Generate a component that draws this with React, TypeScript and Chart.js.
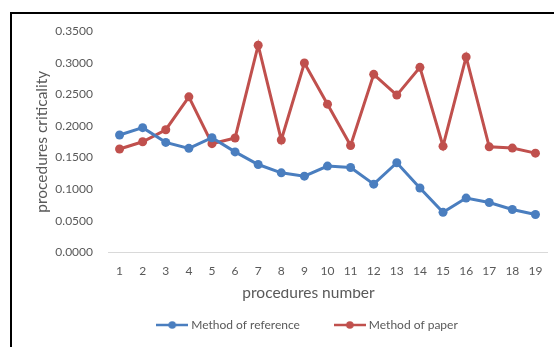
import React, { useEffect, useRef } from "react";
import { Chart, registerables } from "chart.js";

Chart.register(...registerables);

const categories = ["1","2","3","4","5","6","7","8","9","10","11","12","13","14","15","16","17","18","19"];
const methodOfReference = [0.1857, 0.1973, 0.174, 0.1646, 0.1814, 0.159, 0.139, 0.1259, 0.1206, 0.1365, 0.1344, 0.108, 0.1418, 0.102, 0.0635, 0.086, 0.079, 0.068, 0.060];
const methodOfPaper = [0.1635, 0.175, 0.194, 0.246, 0.172, 0.181, 0.3275, 0.1778, 0.2995, 0.2344, 0.169, 0.2815, 0.2487, 0.2926, 0.168, 0.309, 0.167, 0.165, 0.157];
const seriesNames = ["Method of reference", "Method of paper"];
const seriesColors = ["#4a7ebf", "#c0504d"];
const yAxisTitle = "procedures criticality";
const xAxisTitle = "procedures number";

const FONT = "Lato, 'Open Sans', sans-serif";
const TEXT = "#595959";

function legendMarker(color: string): HTMLCanvasElement {
  const c = document.createElement("canvas");
  c.width = 32;
  c.height = 10;
  const ctx = c.getContext("2d")!;
  ctx.strokeStyle = color;
  ctx.lineWidth = 2.5;
  ctx.beginPath();
  ctx.moveTo(0, 5);
  ctx.lineTo(32, 5);
  ctx.stroke();
  ctx.fillStyle = color;
  ctx.beginPath();
  ctx.arc(16, 5, 3.8, 0, Math.PI * 2);
  ctx.fill();
  return c;
}

export default function App() {
  const ref = useRef<HTMLCanvasElement | null>(null);

  useEffect(() => {
    document.body.style.margin = "0";
    const markers = seriesColors.map(legendMarker);
    const chart = new Chart(ref.current!, {
      type: "line",
      data: {
        labels: categories,
        datasets: [methodOfReference, methodOfPaper].map((d, i) => ({
          label: seriesNames[i],
          data: d,
          borderColor: seriesColors[i],
          backgroundColor: seriesColors[i],
          borderWidth: 3,
          pointRadius: 4.5,
          pointHoverRadius: 4.5,
          pointBorderWidth: 0,
          tension: 0,
          yAxisID: "y",
        })),
      },
      options: {
        responsive: false,
        animation: false,
        devicePixelRatio: 1,
        layout: { padding: { left: 55, right: -8, top: 31, bottom: 6 } },
        scales: {
          x: {
            offset: true,
            grid: { display: false, drawTicks: false },
            border: { display: true, color: "#d9d9d9", width: 1 },
            ticks: { color: TEXT, font: { family: FONT, size: 12 }, padding: 11, maxRotation: 0 },
          },
          y: {
            min: 0,
            max: 0.35,
            afterFit: (s: any) => { s.width = 53; },
            grid: { display: false, drawTicks: false },
            border: { display: false },
            ticks: {
              stepSize: 0.05,
              color: TEXT,
              font: { family: FONT, size: 12 },
              padding: 15,
              callback: (v: any) => Number(v).toFixed(4),
            },
            title: {
              display: true,
              text: yAxisTitle,
              color: TEXT,
              font: { family: FONT, size: 15.5 },
              padding: { top: -22.3, bottom: 0 },
            },
          },
          y2: {
            position: "right",
            afterFit: (s: any) => { s.width = 15; },
            grid: { display: false, drawTicks: false },
            border: { display: false },
            ticks: { display: false },
          },
        },
        plugins: {
          tooltip: { enabled: false },
          legend: {
            position: "bottom",
            title: {
              display: true,
              text: xAxisTitle,
              color: TEXT,
              font: { family: FONT, size: 15.5 },
              padding: { top: -3.5, bottom: -22 },
            },
            labels: {
              usePointStyle: true,
              pointStyleWidth: 26,
              padding: 37,
              color: TEXT,
              font: { family: FONT, size: 12 },
              generateLabels: (c: any) => {
                const items = (Chart.defaults.plugins.legend.labels as any).generateLabels(c);
                return items.map((it: any, i: number) => ({ ...it, pointStyle: markers[i], fontColor: TEXT }));
              },
            },
          },
        },
      },
    } as any);
    return () => chart.destroy();
  }, []);

  return (
    <div style={{ position: "relative", width: 554, height: 347, overflow: "hidden", background: "#fff" }}>
      <div style={{ position: "absolute", left: 10, top: 12, width: 700, height: 500, borderLeft: "2px solid #000", borderTop: "2px solid #000" }} />
      <canvas ref={ref} width={554} height={347} style={{ position: "absolute", left: 0, top: 0 }} />
    </div>
  );
}
